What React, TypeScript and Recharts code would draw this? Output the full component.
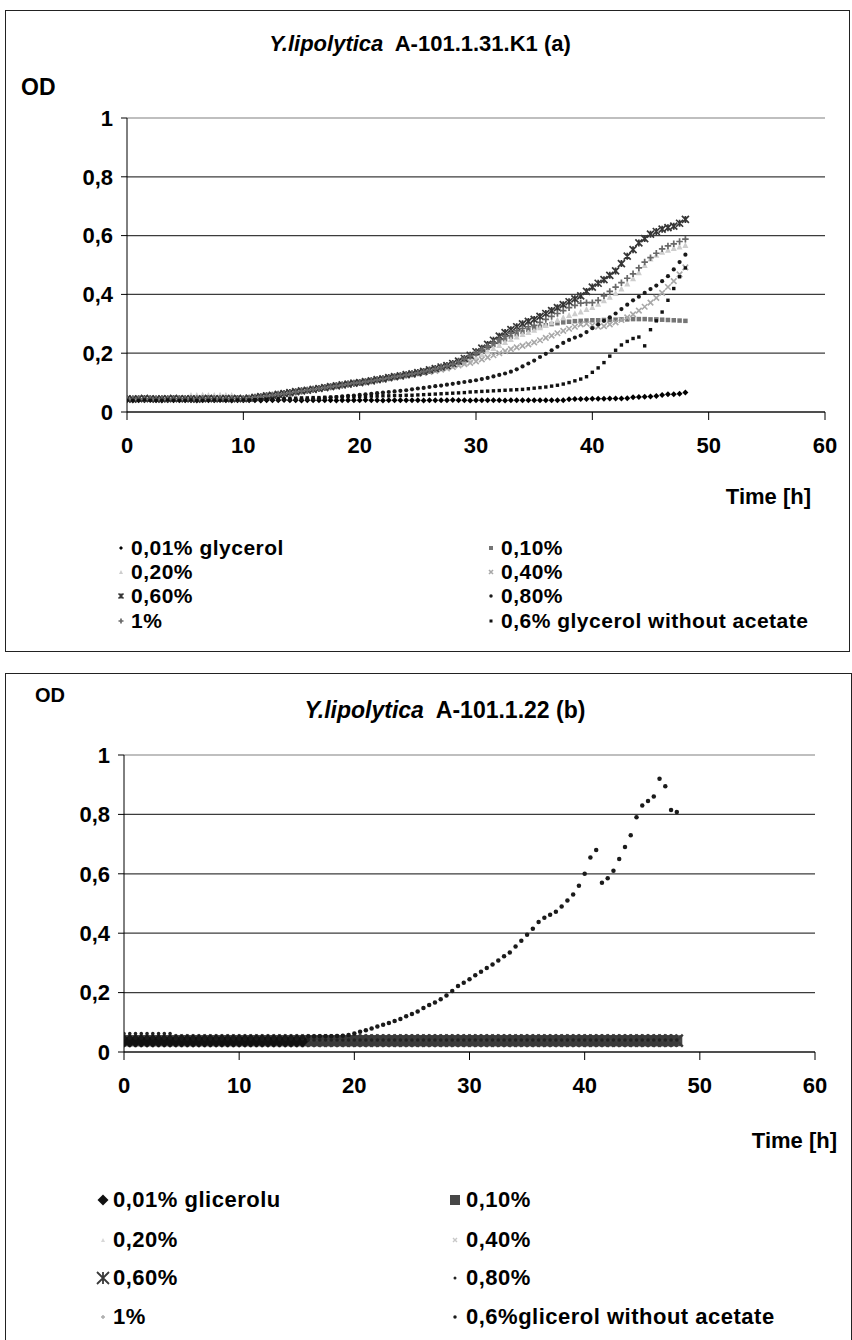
import React from 'react';
import { ScatterChart, Scatter, XAxis, YAxis, CartesianGrid, ReferenceLine } from 'recharts';

// sampling times [h], every half hour
const hours = [
  0, 0.5, 1, 1.5, 2, 2.5, 3, 3.5, 4, 4.5, 5, 5.5, 6, 6.5, 7, 7.5, 8, 8.5, 9, 9.5,
  10, 10.5, 11, 11.5, 12, 12.5, 13, 13.5, 14, 14.5, 15, 15.5, 16, 16.5, 17, 17.5, 18, 18.5, 19, 19.5,
  20, 20.5, 21, 21.5, 22, 22.5, 23, 23.5, 24, 24.5, 25, 25.5, 26, 26.5, 27, 27.5, 28, 28.5, 29, 29.5,
  30, 30.5, 31, 31.5, 32, 32.5, 33, 33.5, 34, 34.5, 35, 35.5, 36, 36.5, 37, 37.5, 38, 38.5, 39, 39.5,
  40, 40.5, 41, 41.5, 42, 42.5, 43, 43.5, 44, 44.5, 45, 45.5, 46, 46.5, 47, 47.5, 48,
];

const timeTicks = [0, 10, 20, 30, 40, 50, 60];
const odTicks = [0, 0.2, 0.4, 0.6, 0.8, 1];

const namesA = ['0,01% glycerol', '0,10%', '0,20%', '0,40%', '0,60%', '0,80%', '1%', '0,6% glycerol without acetate'];
const namesB = ['0,01% glicerolu', '0,10%', '0,20%', '0,40%', '0,60%', '0,80%', '1%', '0,6%glicerol without acetate'];

// ---- strain A-101.1.31.K1 (a) ----
const a001 = [
  0.04, 0.039, 0.04, 0.04, 0.041, 0.04, 0.039, 0.04, 0.04, 0.04,
  0.04, 0.04, 0.039, 0.04, 0.04, 0.04, 0.041, 0.04, 0.039, 0.04,
  0.04, 0.04, 0.04, 0.039, 0.04, 0.04, 0.04, 0.041, 0.04, 0.04,
  0.039, 0.04, 0.04, 0.04, 0.04, 0.04, 0.039, 0.04, 0.04, 0.04,
  0.04, 0.041, 0.04, 0.04, 0.039, 0.04, 0.04, 0.04, 0.04, 0.04,
  0.04, 0.039, 0.04, 0.04, 0.04, 0.04, 0.041, 0.04, 0.04, 0.039,
  0.04, 0.04, 0.04, 0.04, 0.04, 0.039, 0.04, 0.04, 0.04, 0.04,
  0.04, 0.04, 0.04, 0.04, 0.04, 0.04, 0.043, 0.044, 0.044, 0.044,
  0.045, 0.045, 0.045, 0.046, 0.046, 0.046, 0.047, 0.05, 0.051, 0.052,
  0.053, 0.054, 0.058, 0.06, 0.06, 0.062, 0.066,
];
const a010 = [
  0.045, 0.045, 0.045, 0.044, 0.045, 0.046, 0.045, 0.045, 0.044, 0.045,
  0.045, 0.046, 0.045, 0.045, 0.044, 0.045, 0.045, 0.046, 0.045, 0.045,
  0.045, 0.046, 0.049, 0.051, 0.054, 0.056, 0.059, 0.062, 0.065, 0.068,
  0.071, 0.074, 0.077, 0.08, 0.083, 0.086, 0.089, 0.092, 0.095, 0.098,
  0.1, 0.103, 0.106, 0.109, 0.112, 0.116, 0.119, 0.122, 0.126, 0.129,
  0.132, 0.136, 0.14, 0.145, 0.15, 0.155, 0.161, 0.168, 0.177, 0.187,
  0.198, 0.208, 0.218, 0.228, 0.238, 0.247, 0.256, 0.264, 0.272, 0.279,
  0.285, 0.29, 0.295, 0.299, 0.302, 0.305, 0.307, 0.309, 0.31, 0.311,
  0.312, 0.312, 0.313, 0.313, 0.314, 0.315, 0.315, 0.316, 0.316, 0.316,
  0.315, 0.315, 0.314, 0.313, 0.312, 0.311, 0.31,
];
const a020 = [
  0.045, 0.045, 0.044, 0.045, 0.045, 0.046, 0.045, 0.044, 0.045, 0.045,
  0.047, 0.058, 0.058, 0.059, 0.058, 0.058, 0.059, 0.058, 0.058, 0.048,
  0.046, 0.048, 0.05, 0.053, 0.056, 0.059, 0.062, 0.065, 0.068, 0.071,
  0.074, 0.077, 0.08, 0.083, 0.086, 0.089, 0.092, 0.095, 0.098, 0.101,
  0.104, 0.107, 0.11, 0.113, 0.116, 0.119, 0.122, 0.125, 0.128, 0.131,
  0.134, 0.137, 0.14, 0.144, 0.148, 0.152, 0.157, 0.163, 0.17, 0.178,
  0.187, 0.197, 0.207, 0.218, 0.228, 0.238, 0.248, 0.257, 0.265, 0.272,
  0.28, 0.288, 0.296, 0.305, 0.314, 0.322, 0.33, 0.336, 0.342, 0.35,
  0.357, 0.368, 0.38, 0.392, 0.405, 0.42, 0.437, 0.455, 0.475, 0.5,
  0.522, 0.535, 0.545, 0.552, 0.558, 0.563, 0.568,
];
const a040 = [
  0.045, 0.044, 0.045, 0.045, 0.046, 0.045, 0.045, 0.044, 0.045, 0.045,
  0.046, 0.045, 0.045, 0.044, 0.045, 0.046, 0.045, 0.045, 0.044, 0.045,
  0.045, 0.047, 0.049, 0.052, 0.054, 0.057, 0.06, 0.062, 0.065, 0.068,
  0.071, 0.074, 0.077, 0.08, 0.083, 0.086, 0.089, 0.092, 0.095, 0.098,
  0.1, 0.103, 0.106, 0.109, 0.112, 0.115, 0.118, 0.121, 0.124, 0.127,
  0.13, 0.133, 0.136, 0.14, 0.144, 0.148, 0.153, 0.158, 0.163, 0.167,
  0.172, 0.179, 0.186, 0.193, 0.2, 0.207, 0.214, 0.22, 0.225, 0.23,
  0.237, 0.244, 0.252, 0.26, 0.268, 0.276, 0.283, 0.29, 0.298, 0.3,
  0.295, 0.29, 0.292, 0.298, 0.305, 0.313, 0.322, 0.332, 0.345, 0.358,
  0.372, 0.388, 0.405, 0.425, 0.445, 0.468, 0.492,
];
const a060 = [
  0.045, 0.044, 0.045, 0.046, 0.045, 0.044, 0.045, 0.045, 0.046, 0.045,
  0.045, 0.045, 0.044, 0.045, 0.046, 0.045, 0.045, 0.046, 0.045, 0.046,
  0.045, 0.047, 0.05, 0.052, 0.055, 0.057, 0.06, 0.063, 0.066, 0.069,
  0.072, 0.074, 0.077, 0.08, 0.083, 0.086, 0.089, 0.092, 0.095, 0.098,
  0.1, 0.103, 0.106, 0.11, 0.113, 0.117, 0.12, 0.123, 0.127, 0.13,
  0.134, 0.138, 0.143, 0.148, 0.153, 0.158, 0.165, 0.173, 0.182, 0.193,
  0.205, 0.217, 0.23, 0.244, 0.258, 0.27, 0.28, 0.29, 0.3, 0.308,
  0.315, 0.325, 0.335, 0.345, 0.355, 0.365, 0.375, 0.385, 0.395, 0.41,
  0.425, 0.438, 0.45, 0.465, 0.48, 0.505, 0.53, 0.552, 0.575, 0.59,
  0.605, 0.614, 0.622, 0.627, 0.632, 0.642, 0.655,
];
const a080 = [
  0.042, 0.042, 0.041, 0.042, 0.042, 0.043, 0.042, 0.042, 0.041, 0.042,
  0.042, 0.042, 0.043, 0.042, 0.042, 0.041, 0.042, 0.042, 0.043, 0.042,
  0.042, 0.042, 0.043, 0.042, 0.043, 0.043, 0.042, 0.043, 0.043, 0.043,
  0.044, 0.044, 0.045, 0.046, 0.048, 0.05, 0.051, 0.053, 0.055, 0.056,
  0.058, 0.06, 0.062, 0.064, 0.066, 0.068, 0.07, 0.072, 0.074, 0.077,
  0.08, 0.082, 0.085, 0.088, 0.09, 0.093, 0.096, 0.099, 0.102, 0.105,
  0.108, 0.112, 0.116, 0.121, 0.126, 0.131, 0.137, 0.145, 0.155, 0.165,
  0.175, 0.187, 0.198, 0.21, 0.222, 0.235, 0.245, 0.253, 0.26, 0.272,
  0.285, 0.298, 0.31, 0.322, 0.335, 0.35, 0.365, 0.38, 0.392, 0.405,
  0.418, 0.43, 0.445, 0.462, 0.485, 0.51, 0.535,
];
const a1 = [
  0.044, 0.045, 0.045, 0.044, 0.046, 0.045, 0.045, 0.044, 0.045, 0.046,
  0.045, 0.044, 0.045, 0.045, 0.046, 0.045, 0.044, 0.045, 0.046, 0.045,
  0.045, 0.047, 0.05, 0.052, 0.054, 0.057, 0.06, 0.062, 0.065, 0.068,
  0.071, 0.074, 0.077, 0.08, 0.083, 0.086, 0.089, 0.092, 0.095, 0.098,
  0.1, 0.103, 0.106, 0.109, 0.112, 0.116, 0.12, 0.123, 0.126, 0.13,
  0.133, 0.137, 0.141, 0.146, 0.151, 0.157, 0.163, 0.171, 0.18, 0.19,
  0.2, 0.212, 0.224, 0.236, 0.247, 0.258, 0.268, 0.276, 0.284, 0.29,
  0.295, 0.305, 0.315, 0.325, 0.335, 0.345, 0.355, 0.363, 0.37, 0.372,
  0.372, 0.38, 0.395, 0.41, 0.425, 0.44, 0.455, 0.47, 0.49, 0.51,
  0.525, 0.54, 0.555, 0.565, 0.572, 0.58, 0.588,
];
const aNoAcetate = [
  0.04, 0.04, 0.04, 0.041, 0.04, 0.04, 0.04, 0.041, 0.04, 0.04,
  0.04, 0.041, 0.04, 0.04, 0.04, 0.041, 0.04, 0.04, 0.04, 0.041,
  0.041, 0.041, 0.042, 0.042, 0.043, 0.044, 0.045, 0.046, 0.047, 0.047,
  0.048, 0.048, 0.049, 0.049, 0.05, 0.05, 0.051, 0.051, 0.052, 0.052,
  0.053, 0.053, 0.054, 0.054, 0.055, 0.055, 0.056, 0.056, 0.057, 0.057,
  0.058, 0.059, 0.06, 0.061, 0.062, 0.063, 0.064, 0.065, 0.066, 0.068,
  0.069, 0.07, 0.071, 0.072, 0.073, 0.074, 0.075, 0.076, 0.077, 0.079,
  0.081, 0.083, 0.085, 0.088, 0.091, 0.095, 0.1, 0.106, 0.112, 0.12,
  0.135, 0.15, 0.168, 0.19, 0.21, 0.228, 0.24, 0.25, 0.255, 0.225,
  0.28, 0.31, 0.34, 0.38, 0.42, 0.46, 0.49,
];

// ---- strain A-101.1.22 (b) ----
// 0,01% is only visible up to 15.5 h
const b001 = [
  0.037, 0.037, 0.037, 0.037, 0.037, 0.037, 0.037, 0.037, 0.037, 0.037,
  0.037, 0.037, 0.037, 0.037, 0.037, 0.037, 0.037, 0.037, 0.037, 0.037,
  0.037, 0.037, 0.037, 0.037, 0.037, 0.037, 0.037, 0.037, 0.037, 0.037,
  0.037, 0.037,
];
const b010 = [
  0.038, 0.038, 0.038, 0.038, 0.038, 0.038, 0.038, 0.038, 0.038, 0.038,
  0.038, 0.038, 0.038, 0.038, 0.038, 0.038, 0.038, 0.038, 0.038, 0.038,
  0.038, 0.038, 0.038, 0.038, 0.038, 0.038, 0.038, 0.038, 0.038, 0.038,
  0.038, 0.038, 0.038, 0.038, 0.038, 0.038, 0.038, 0.038, 0.038, 0.038,
  0.038, 0.038, 0.038, 0.038, 0.038, 0.038, 0.038, 0.038, 0.038, 0.038,
  0.038, 0.038, 0.038, 0.038, 0.038, 0.038, 0.038, 0.038, 0.038, 0.038,
  0.038, 0.038, 0.038, 0.038, 0.038, 0.038, 0.038, 0.038, 0.038, 0.038,
  0.038, 0.038, 0.038, 0.038, 0.038, 0.038, 0.038, 0.038, 0.038, 0.038,
  0.038, 0.038, 0.038, 0.038, 0.038, 0.038, 0.038, 0.038, 0.038, 0.038,
  0.038, 0.038, 0.038, 0.038, 0.038, 0.038, 0.038,
];
const b020 = [
  0.05, 0.05, 0.05, 0.05, 0.05, 0.05, 0.05, 0.05, 0.05, 0.05,
  0.05, 0.05, 0.05, 0.05, 0.05, 0.05, 0.05, 0.05, 0.05, 0.05,
  0.05, 0.05, 0.05, 0.05, 0.05, 0.05, 0.05, 0.05, 0.05, 0.05,
  0.05, 0.05, 0.05, 0.05, 0.05, 0.05, 0.05, 0.05, 0.05, 0.05,
  0.05, 0.05, 0.05, 0.05, 0.05, 0.05, 0.05, 0.05, 0.05, 0.05,
  0.05, 0.05, 0.05, 0.05, 0.05, 0.05, 0.05, 0.05, 0.05, 0.05,
  0.05, 0.05, 0.05, 0.05, 0.05, 0.05, 0.05, 0.05, 0.05, 0.05,
  0.05, 0.05, 0.05, 0.05, 0.05, 0.05, 0.05, 0.05, 0.05, 0.05,
  0.05, 0.05, 0.05, 0.05, 0.05, 0.05, 0.05, 0.05, 0.05, 0.05,
  0.05, 0.05, 0.05, 0.05, 0.05, 0.05, 0.05,
];
const b040 = [
  0.026, 0.026, 0.026, 0.026, 0.026, 0.026, 0.026, 0.026, 0.026, 0.026,
  0.026, 0.026, 0.026, 0.026, 0.026, 0.026, 0.026, 0.026, 0.026, 0.026,
  0.026, 0.026, 0.026, 0.026, 0.026, 0.026, 0.026, 0.026, 0.026, 0.026,
  0.026, 0.026, 0.026, 0.026, 0.026, 0.026, 0.026, 0.026, 0.026, 0.026,
  0.026, 0.026, 0.026, 0.026, 0.026, 0.026, 0.026, 0.026, 0.026, 0.026,
  0.026, 0.026, 0.026, 0.026, 0.026, 0.026, 0.026, 0.026, 0.026, 0.026,
  0.026, 0.026, 0.026, 0.026, 0.026, 0.026, 0.026, 0.026, 0.026, 0.026,
  0.026, 0.026, 0.026, 0.026, 0.026, 0.026, 0.026, 0.026, 0.026, 0.026,
  0.026, 0.026, 0.026, 0.026, 0.026, 0.026, 0.026, 0.026, 0.026, 0.026,
  0.026, 0.026, 0.026, 0.026, 0.026, 0.026, 0.026,
];
const b060 = [
  0.038, 0.038, 0.038, 0.038, 0.038, 0.038, 0.038, 0.038, 0.038, 0.038,
  0.038, 0.038, 0.038, 0.038, 0.038, 0.038, 0.038, 0.038, 0.038, 0.038,
  0.038, 0.038, 0.038, 0.038, 0.038, 0.038, 0.038, 0.038, 0.038, 0.038,
  0.038, 0.038, 0.038, 0.038, 0.038, 0.038, 0.038, 0.038, 0.038, 0.038,
  0.038, 0.038, 0.038, 0.038, 0.038, 0.038, 0.038, 0.038, 0.038, 0.038,
  0.038, 0.038, 0.038, 0.038, 0.038, 0.038, 0.038, 0.038, 0.038, 0.038,
  0.038, 0.038, 0.038, 0.038, 0.038, 0.038, 0.038, 0.038, 0.038, 0.038,
  0.038, 0.038, 0.038, 0.038, 0.038, 0.038, 0.038, 0.038, 0.038, 0.038,
  0.038, 0.038, 0.038, 0.038, 0.038, 0.038, 0.038, 0.038, 0.038, 0.038,
  0.038, 0.038, 0.038, 0.038, 0.038, 0.038, 0.038,
];
const b080 = [
  0.062, 0.062, 0.062, 0.062, 0.062, 0.062, 0.062, 0.062, 0.062, 0.045,
  0.045, 0.045, 0.045, 0.045, 0.045, 0.045, 0.045, 0.045, 0.045, 0.045,
  0.045, 0.045, 0.045, 0.045, 0.045, 0.045, 0.045, 0.045, 0.045, 0.045,
  0.045, 0.045, 0.04, 0.04, 0.04, 0.04, 0.04, 0.04, 0.04, 0.04,
  0.04, 0.04, 0.04, 0.04, 0.04, 0.04, 0.04, 0.04, 0.04, 0.04,
  0.04, 0.04, 0.04, 0.04, 0.04, 0.04, 0.04, 0.04, 0.04, 0.04,
  0.04, 0.04, 0.04, 0.04, 0.04, 0.04, 0.04, 0.04, 0.04, 0.04,
  0.04, 0.04, 0.04, 0.04, 0.04, 0.04, 0.04, 0.04, 0.04, 0.04,
  0.04, 0.04, 0.04, 0.04, 0.04, 0.04, 0.04, 0.04, 0.04, 0.04,
  0.04, 0.04, 0.04, 0.04, 0.04, 0.04, 0.04,
];
const b1 = [
  0.024, 0.024, 0.024, 0.024, 0.024, 0.024, 0.024, 0.024, 0.024, 0.024,
  0.024, 0.024, 0.024, 0.024, 0.024, 0.024, 0.024, 0.024, 0.024, 0.024,
  0.024, 0.024, 0.024, 0.024, 0.024, 0.024, 0.024, 0.024, 0.024, 0.024,
  0.024, 0.024, 0.024, 0.024, 0.024, 0.024, 0.024, 0.024, 0.024, 0.024,
  0.024, 0.024, 0.024, 0.024, 0.024, 0.024, 0.024, 0.024, 0.024, 0.024,
  0.024, 0.024, 0.024, 0.024, 0.024, 0.024, 0.024, 0.024, 0.024, 0.024,
  0.024, 0.024, 0.024, 0.024, 0.024, 0.024, 0.024, 0.024, 0.024, 0.024,
  0.024, 0.024, 0.024, 0.024, 0.024, 0.024, 0.024, 0.024, 0.024, 0.024,
  0.024, 0.024, 0.024, 0.024, 0.024, 0.024, 0.024, 0.024, 0.024, 0.024,
  0.024, 0.024, 0.024, 0.024, 0.024, 0.024, 0.024,
];
const bNoAcetate = [
  0.048, 0.048, 0.048, 0.048, 0.048, 0.048, 0.048, 0.048, 0.048, 0.048,
  0.048, 0.048, 0.048, 0.048, 0.048, 0.048, 0.048, 0.048, 0.048, 0.048,
  0.048, 0.048, 0.048, 0.048, 0.048, 0.048, 0.048, 0.048, 0.048, 0.048,
  0.048, 0.05, 0.052, 0.052, 0.053, 0.053, 0.053, 0.054, 0.055, 0.057,
  0.062, 0.068, 0.073, 0.079, 0.086, 0.092, 0.098, 0.104, 0.111, 0.12,
  0.128, 0.136, 0.148, 0.158, 0.167, 0.178, 0.19, 0.205, 0.222, 0.233,
  0.245, 0.258, 0.27, 0.283, 0.295, 0.308, 0.322, 0.335, 0.355, 0.375,
  0.395, 0.415, 0.438, 0.452, 0.462, 0.472, 0.49, 0.51, 0.53, 0.56,
  0.6, 0.655, 0.68, 0.57, 0.585, 0.61, 0.65, 0.69, 0.73, 0.79,
  0.83, 0.845, 0.86, 0.92, 0.895, 0.815, 0.808,
];

type Kind = 'diamond' | 'square' | 'triangle' | 'x' | 'star' | 'dot' | 'plus';
type Style = { kind: Kind; size: number; color: string; sw?: number };

const stylesA: Style[] = [
  { kind: 'diamond', size: 6, color: '#000' },
  { kind: 'square', size: 4.5, color: '#757575' },
  { kind: 'triangle', size: 6, color: '#cdcdcd' },
  { kind: 'x', size: 5.5, color: '#a8a8a8', sw: 1.6 },
  { kind: 'star', size: 7, color: '#363636', sw: 1.7 },
  { kind: 'dot', size: 4.2, color: '#1a1a1a' },
  { kind: 'plus', size: 6.5, color: '#686868', sw: 1.7 },
  { kind: 'square', size: 3.4, color: '#111' },
];
const stylesB: Style[] = [
  { kind: 'diamond', size: 13, color: '#111' },
  { kind: 'square', size: 11, color: '#474747' },
  { kind: 'triangle', size: 4, color: '#d8d8d8' },
  { kind: 'x', size: 4, color: '#c8c8c8' },
  { kind: 'star', size: 12, color: '#3a3a3a', sw: 2.4 },
  { kind: 'dot', size: 3.5, color: '#222' },
  { kind: 'plus', size: 4, color: '#aaa' },
  { kind: 'dot', size: 4.5, color: '#1a1a1a' },
];

const valuesA = [a001, a010, a020, a040, a060, a080, a1, aNoAcetate];
const valuesB = [b001, b010, b020, b040, b060, b080, b1, bNoAcetate];
// drawing order (last on top)
const orderA = [0, 1, 2, 3, 4, 5, 6, 7];
const orderB = [2, 3, 6, 1, 4, 0, 5, 7];

const FONT = "'Liberation Sans', Arial, sans-serif";

function Marker({ kind, size, color, sw, cx, cy }: Style & { cx: number; cy: number }) {
  const h = size / 2;
  switch (kind) {
    case 'diamond':
      return <path d={`M${cx},${cy - h}L${cx + h},${cy}L${cx},${cy + h}L${cx - h},${cy}Z`} fill={color} />;
    case 'square':
      return <rect x={cx - h} y={cy - h} width={size} height={size} fill={color} />;
    case 'triangle':
      return <path d={`M${cx},${cy - h}L${cx + h},${cy + h}L${cx - h},${cy + h}Z`} fill={color} />;
    case 'x':
      return (
        <path d={`M${cx - h},${cy - h}L${cx + h},${cy + h}M${cx + h},${cy - h}L${cx - h},${cy + h}`}
          stroke={color} strokeWidth={sw ?? 1.4} />
      );
    case 'star':
      return (
        <path d={`M${cx - h},${cy - h}L${cx + h},${cy + h}M${cx + h},${cy - h}L${cx - h},${cy + h}M${cx},${cy - h}L${cx},${cy + h}`}
          stroke={color} strokeWidth={sw ?? 1.5} />
      );
    case 'plus':
      return (
        <path d={`M${cx - h},${cy}L${cx + h},${cy}M${cx},${cy - h}L${cx},${cy + h}`}
          stroke={color} strokeWidth={sw ?? 1.5} />
      );
    default:
      return <circle cx={cx} cy={cy} r={h} fill={color} />;
  }
}

const fmtOD = (v: number) => String(v).replace('.', ',');

type PanelProps = {
  top: number;
  margin: { top: number; right: number; bottom: number; left: number };
  values: number[][];
  styles: Style[];
  order: number[];
};

function Panel({ top, margin, values, styles, order }: PanelProps) {
  const tick = { fill: '#000', fontSize: 22, fontWeight: 700, fontFamily: FONT };
  return (
    <div style={{ position: 'absolute', left: 0, top }}>
      <ScatterChart width={852} height={480} margin={margin}>
        <CartesianGrid vertical={false} stroke="#3c3c3c" strokeWidth={1.2} />
        <ReferenceLine y={1} stroke="#e2e2e2" strokeWidth={1.2} />
        <XAxis type="number" dataKey="x" domain={[0, 60]} ticks={timeTicks} height={40}
          axisLine={{ stroke: '#000' }} tickLine={{ stroke: '#000' }} tickSize={8} tickMargin={17}
          tick={tick} allowDataOverflow />
        <YAxis type="number" dataKey="y" domain={[0, 1]} ticks={odTicks} width={60}
          axisLine={{ stroke: '#000' }} tickLine={{ stroke: '#000' }} tickSize={6} tickMargin={8}
          tick={tick} tickFormatter={fmtOD} />
        {order.map((i) => (
          <Scatter key={i}
            data={hours.map((h, j) => ({ x: h, y: values[i][j] })).filter((d) => d.y != null)}
            isAnimationActive={false}
            shape={(p: any) => <Marker {...styles[i]} cx={p.cx} cy={p.cy} />} />
        ))}
      </ScatterChart>
    </div>
  );
}

function LegendBlock({ names, styles, rows, cols, fontSize, sizes }: {
  names: string[]; styles: Style[]; rows: number[]; cols: { marker: number; text: number }[];
  fontSize: number; sizes: number[];
}) {
  return (
    <>
      {names.map((n, i) => {
        const c = cols[i % 2];
        const y = rows[Math.floor(i / 2)];
        const s = styles[i];
        return (
          <React.Fragment key={n}>
            <svg style={{ position: 'absolute', left: c.marker - 8, top: y - 8 }} width={16} height={16}>
              <Marker {...s} size={sizes[i]} sw={Math.min(s.sw ?? 1.4, 1.8)} cx={8} cy={8} />
            </svg>
            <div style={{
              position: 'absolute', left: c.text, top: y - fontSize * 0.6, fontSize, fontWeight: 700,
              fontFamily: FONT, whiteSpace: 'pre', lineHeight: 1.2, letterSpacing: 0.5,
            }}>{n}</div>
          </React.Fragment>
        );
      })}
    </>
  );
}

const textStyle: React.CSSProperties = { position: 'absolute', fontWeight: 700, fontFamily: FONT, color: '#000', whiteSpace: 'pre', lineHeight: 1 };

export default function App() {
  return (
    <div style={{ position: 'absolute', left: 0, top: 0, width: 852, height: 1340, background: '#fff', overflow: 'hidden' }}>
      {/* panel (a) */}
      <div style={{ position: 'absolute', left: 5, top: 10, width: 845, height: 642, border: '1.5px solid #222', boxSizing: 'border-box' }} />
      <div style={{ ...textStyle, left: 0, width: 840, top: 33, fontSize: 22, textAlign: 'center' }}>
        <i>Y.lipolytica</i>{'  A-101.1.31.K1 (a)'}
      </div>
      <div style={{ ...textStyle, left: 21, top: 76, fontSize: 23 }}>OD</div>
      <Panel top={0} margin={{ top: 118, right: 27, bottom: 28, left: 67 }} values={valuesA} styles={stylesA} order={orderA} />
      <div style={{ ...textStyle, right: 852 - 811, top: 486, fontSize: 22 }}>Time [h]</div>
      <LegendBlock names={namesA} styles={stylesA} rows={[548, 572, 596, 621]}
        cols={[{ marker: 121, text: 131 }, { marker: 491, text: 501 }]} fontSize={21}
        sizes={[4, 4, 4, 4, 5, 3.5, 5, 3]} />

      {/* panel (b) */}
      <div style={{ position: 'absolute', left: 5, top: 673, width: 847, height: 700, border: '1.5px solid #222', boxSizing: 'border-box' }} />
      <div style={{ ...textStyle, left: 0, width: 890, top: 699, fontSize: 23, textAlign: 'center' }}>
        <i>Y.lipolytica</i>{'  A-101.1.22 (b)'}
      </div>
      <div style={{ ...textStyle, left: 35, top: 685, fontSize: 20 }}>OD</div>
      <Panel top={640} margin={{ top: 115, right: 37, bottom: 28, left: 64 }} values={valuesB} styles={stylesB} order={orderB} />
      <div style={{ ...textStyle, right: 852 - 837, top: 1130, fontSize: 22 }}>Time [h]</div>
      <LegendBlock names={namesB} styles={stylesB} rows={[1200, 1240, 1278, 1317]}
        cols={[{ marker: 103, text: 113 }, { marker: 455, text: 466 }]} fontSize={22}
        sizes={[11, 10, 4, 4, 12, 3, 4, 3.5]} />
    </div>
  );
}
